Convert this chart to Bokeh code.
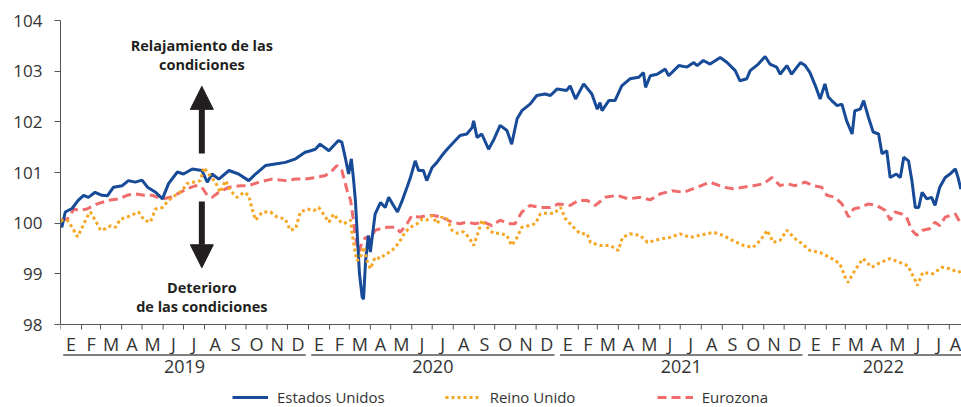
import pandas as pd
from bokeh.plotting import figure
from bokeh.models import Range1d, FixedTicker, Legend, LegendItem, Arrow, NormalHead, Label
from bokeh.embed import file_html
from bokeh.resources import INLINE
from bokeh.core.properties import value

# ---------------- data ----------------
series_names = ["Estados Unidos", "Reino Unido", "Eurozona"]

us_dates = [
    "2019-01-01", "2019-01-03", "2019-01-08", "2019-01-18", "2019-01-27", "2019-02-04", "2019-02-11", "2019-02-21",
    "2019-03-03", "2019-03-11", "2019-03-20", "2019-04-02", "2019-04-11", "2019-04-21", "2019-05-01", "2019-05-09",
    "2019-05-21", "2019-05-31", "2019-06-09", "2019-06-22", "2019-07-01", "2019-07-14", "2019-07-28", "2019-08-05",
    "2019-08-12", "2019-08-22", "2019-09-06", "2019-09-20", "2019-10-05", "2019-10-15", "2019-10-30", "2019-11-13",
    "2019-11-28", "2019-12-13", "2019-12-27", "2020-01-04", "2020-01-11", "2020-01-18", "2020-01-31", "2020-02-14",
    "2020-02-19", "2020-02-24", "2020-02-29", "2020-03-04", "2020-03-07", "2020-03-10", "2020-03-13", "2020-03-16",
    "2020-03-20", "2020-03-22", "2020-03-25", "2020-03-29", "2020-04-01", "2020-04-08", "2020-04-16", "2020-04-23",
    "2020-04-28", "2020-05-05", "2020-05-11", "2020-05-18", "2020-05-25", "2020-05-30", "2020-06-06", "2020-06-11",
    "2020-06-18", "2020-06-23", "2020-07-01", "2020-07-08", "2020-07-15", "2020-07-23", "2020-08-04", "2020-08-11",
    "2020-08-21", "2020-08-29", "2020-08-31", "2020-09-05", "2020-09-12", "2020-09-22", "2020-09-29", "2020-10-09",
    "2020-10-19", "2020-10-26", "2020-11-03", "2020-11-10", "2020-11-22", "2020-12-02", "2020-12-14", "2020-12-22",
    "2021-01-01", "2021-01-15", "2021-01-20", "2021-01-28", "2021-02-09", "2021-02-21", "2021-03-01", "2021-03-05",
    "2021-03-08", "2021-03-18", "2021-03-27", "2021-04-06", "2021-04-18", "2021-05-01", "2021-05-08", "2021-05-11",
    "2021-05-18", "2021-05-28", "2021-06-09", "2021-06-14", "2021-06-29", "2021-07-11", "2021-07-21", "2021-07-26",
    "2021-08-04", "2021-08-14", "2021-08-29", "2021-09-08", "2021-09-20", "2021-09-27", "2021-10-07", "2021-10-12",
    "2021-10-24", "2021-11-03", "2021-11-10", "2021-11-20", "2021-11-25", "2021-12-05", "2021-12-12", "2021-12-25",
    "2022-01-01", "2022-01-08", "2022-01-16", "2022-01-23", "2022-01-30", "2022-02-04", "2022-02-09", "2022-02-17",
    "2022-02-24", "2022-03-03", "2022-03-11", "2022-03-15", "2022-03-23", "2022-03-28", "2022-04-04", "2022-04-11",
    "2022-04-19", "2022-04-24", "2022-05-01", "2022-05-06", "2022-05-15", "2022-05-21", "2022-05-26", "2022-06-02",
    "2022-06-07", "2022-06-12", "2022-06-17", "2022-06-22", "2022-06-29", "2022-07-06", "2022-07-11", "2022-07-18",
    "2022-07-26", "2022-08-02", "2022-08-10", "2022-08-14", "2022-08-18",
]
us_values = [
    99.97, 99.92, 100.22, 100.29, 100.45, 100.55, 100.51, 100.61,
    100.55, 100.54, 100.71, 100.74, 100.84, 100.81, 100.85, 100.71,
    100.61, 100.48, 100.78, 101.01, 100.97, 101.07, 101.04, 100.81,
    100.97, 100.87, 101.04, 100.97, 100.84, 100.97, 101.14, 101.17,
    101.20, 101.27, 101.40, 101.43, 101.46, 101.56, 101.43, 101.63,
    101.60, 101.30, 100.97, 101.27, 100.90, 100.45, 99.72, 99.00,
    98.54, 98.50, 99.26, 99.76, 99.43, 100.18, 100.41, 100.31,
    100.51, 100.35, 100.22, 100.45, 100.71, 100.90, 101.23, 101.04,
    101.04, 100.84, 101.10, 101.20, 101.33, 101.46, 101.63, 101.73,
    101.76, 101.89, 102.02, 101.69, 101.76, 101.46, 101.63, 101.93,
    101.83, 101.56, 102.06, 102.22, 102.35, 102.52, 102.55, 102.52,
    102.65, 102.62, 102.71, 102.45, 102.75, 102.55, 102.25, 102.38,
    102.22, 102.42, 102.42, 102.71, 102.85, 102.88, 102.97, 102.68,
    102.91, 102.94, 103.04, 102.91, 103.11, 103.08, 103.17, 103.11,
    103.21, 103.14, 103.27, 103.17, 103.01, 102.81, 102.85, 103.01,
    103.14, 103.29, 103.14, 103.08, 102.94, 103.11, 102.94, 103.17,
    103.11, 102.97, 102.71, 102.45, 102.75, 102.49, 102.42, 102.32,
    102.35, 102.02, 101.76, 102.22, 102.25, 102.42, 102.09, 101.80,
    101.76, 101.37, 101.43, 100.90, 100.97, 100.90, 101.30, 101.23,
    100.84, 100.31, 100.31, 100.61, 100.48, 100.51, 100.35, 100.71,
    100.90, 100.97, 101.07, 100.90, 100.67,
]

uk_dates = [
    "2019-01-01", "2019-01-11", "2019-01-18", "2019-01-26", "2019-02-02", "2019-02-09", "2019-02-14", "2019-02-21",
    "2019-03-01", "2019-03-08", "2019-03-16", "2019-03-23", "2019-03-30", "2019-04-09", "2019-04-19", "2019-04-26",
    "2019-05-04", "2019-05-13", "2019-05-21", "2019-05-31", "2019-06-09", "2019-06-19", "2019-06-29", "2019-07-06",
    "2019-07-16", "2019-07-26", "2019-07-31", "2019-08-07", "2019-08-17", "2019-08-24", "2019-09-01", "2019-09-08",
    "2019-09-18", "2019-09-28", "2019-10-05", "2019-10-10", "2019-10-15", "2019-10-25", "2019-11-06", "2019-11-16",
    "2019-11-28", "2019-12-05", "2019-12-13", "2019-12-20", "2019-12-30", "2020-01-09", "2020-01-16", "2020-01-23",
    "2020-01-31", "2020-02-07", "2020-02-14", "2020-02-22", "2020-03-03", "2020-03-05", "2020-03-10", "2020-03-12",
    "2020-03-17", "2020-03-22", "2020-03-27", "2020-04-01", "2020-04-08", "2020-04-16", "2020-04-23", "2020-04-30",
    "2020-05-08", "2020-05-15", "2020-05-22", "2020-05-30", "2020-06-09", "2020-06-16", "2020-06-23", "2020-07-01",
    "2020-07-08", "2020-07-15", "2020-07-23", "2020-07-30", "2020-08-07", "2020-08-16", "2020-08-24", "2020-08-31",
    "2020-09-07", "2020-09-12", "2020-09-20", "2020-09-29", "2020-10-09", "2020-10-19", "2020-10-26", "2020-11-03",
    "2020-11-10", "2020-11-20", "2020-11-30", "2020-12-07", "2020-12-17", "2020-12-27", "2021-01-06", "2021-01-13",
    "2021-01-25", "2021-02-04", "2021-02-14", "2021-02-19", "2021-03-05", "2021-03-20", "2021-04-01", "2021-04-07",
    "2021-04-18", "2021-05-03", "2021-05-14", "2021-06-02", "2021-06-16", "2021-07-01", "2021-07-16", "2021-07-30",
    "2021-08-19", "2021-09-02", "2021-09-16", "2021-10-02", "2021-10-16", "2021-10-27", "2021-11-06", "2021-11-15",
    "2021-11-25", "2021-12-05", "2021-12-20", "2021-12-25", "2022-01-08", "2022-01-23", "2022-02-07", "2022-02-21",
    "2022-03-01", "2022-03-05", "2022-03-15", "2022-03-27", "2022-04-09", "2022-04-21", "2022-05-06", "2022-05-21",
    "2022-06-01", "2022-06-12", "2022-06-15", "2022-06-23", "2022-07-08", "2022-07-21", "2022-08-02", "2022-08-14",
    "2022-08-18",
]
uk_values = [
    100.06, 100.06, 99.92, 99.73, 99.92, 100.12, 100.22, 100.06,
    99.86, 99.89, 99.95, 99.92, 100.08, 100.12, 100.18, 100.22,
    100.06, 100.02, 100.28, 100.31, 100.45, 100.55, 100.64, 100.78,
    100.81, 100.84, 101.10, 100.97, 100.81, 100.61, 100.84, 100.64,
    100.51, 100.61, 100.55, 100.28, 100.06, 100.22, 100.22, 100.12,
    100.08, 99.86, 99.89, 100.22, 100.28, 100.25, 100.31, 100.18,
    100.02, 100.18, 100.06, 99.99, 100.06, 99.80, 99.41, 99.26,
    99.30, 99.53, 99.26, 99.10, 99.33, 99.30, 99.39, 99.43,
    99.53, 99.66, 99.82, 99.92, 99.99, 100.08, 100.06, 100.15,
    99.99, 100.12, 100.08, 99.86, 99.80, 99.83, 99.72, 99.56,
    99.83, 100.06, 99.92, 99.80, 99.80, 99.76, 99.56, 99.72,
    99.92, 99.95, 99.99, 100.18, 100.20, 100.19, 100.31, 100.09,
    99.92, 99.79, 99.79, 99.62, 99.56, 99.56, 99.46, 99.72,
    99.79, 99.76, 99.62, 99.69, 99.72, 99.79, 99.72, 99.76,
    99.82, 99.76, 99.66, 99.56, 99.52, 99.66, 99.86, 99.62,
    99.66, 99.86, 99.66, 99.62, 99.46, 99.42, 99.32, 99.20,
    98.93, 98.83, 99.07, 99.30, 99.13, 99.22, 99.30, 99.22,
    99.16, 98.87, 98.77, 99.03, 99.00, 99.13, 99.10, 99.03,
    99.05,
]

ez_dates = [
    "2019-01-01", "2019-01-11", "2019-01-21", "2019-01-28", "2019-02-09", "2019-02-24", "2019-03-13", "2019-03-28",
    "2019-04-09", "2019-04-21", "2019-05-04", "2019-05-16", "2019-05-31", "2019-06-12", "2019-06-27", "2019-07-06",
    "2019-07-19", "2019-07-28", "2019-08-05", "2019-08-12", "2019-08-22", "2019-09-06", "2019-09-23", "2019-10-05",
    "2019-10-20", "2019-11-08", "2019-11-28", "2019-12-13", "2019-12-25", "2020-01-11", "2020-01-26", "2020-02-05",
    "2020-02-12", "2020-02-19", "2020-02-27", "2020-03-03", "2020-03-07", "2020-03-10", "2020-03-15", "2020-03-20",
    "2020-03-25", "2020-04-01", "2020-04-08", "2020-04-16", "2020-04-26", "2020-05-08", "2020-05-15", "2020-05-25",
    "2020-06-01", "2020-06-11", "2020-06-23", "2020-07-03", "2020-07-15", "2020-07-30", "2020-08-11", "2020-08-21",
    "2020-09-02", "2020-09-15", "2020-09-27", "2020-10-09", "2020-10-21", "2020-10-31", "2020-11-10", "2020-11-22",
    "2020-12-07", "2020-12-22", "2021-01-03", "2021-01-20", "2021-02-01", "2021-02-14", "2021-02-26", "2021-03-13",
    "2021-03-30", "2021-04-16", "2021-05-03", "2021-05-18", "2021-06-02", "2021-06-19", "2021-07-06", "2021-07-26",
    "2021-08-14", "2021-09-03", "2021-09-17", "2021-10-02", "2021-10-17", "2021-11-01", "2021-11-13", "2021-11-25",
    "2021-12-05", "2021-12-17", "2022-01-01", "2022-01-13", "2022-01-25", "2022-02-02", "2022-02-14", "2022-02-24",
    "2022-03-06", "2022-03-13", "2022-03-23", "2022-04-04", "2022-04-16", "2022-04-29", "2022-05-06", "2022-05-13",
    "2022-05-23", "2022-05-30", "2022-06-07", "2022-06-14", "2022-06-23", "2022-07-03", "2022-07-11", "2022-07-18",
    "2022-07-26", "2022-08-02", "2022-08-10", "2022-08-18",
]
ez_values = [
    100.06, 100.08, 100.28, 100.25, 100.28, 100.38, 100.45, 100.48,
    100.55, 100.58, 100.55, 100.55, 100.48, 100.51, 100.61, 100.68,
    100.74, 100.71, 100.55, 100.51, 100.61, 100.71, 100.74, 100.74,
    100.81, 100.87, 100.84, 100.87, 100.87, 100.90, 100.94, 101.04,
    101.14, 101.04, 100.64, 100.45, 100.06, 99.72, 99.43, 99.63,
    99.72, 99.69, 99.86, 99.89, 99.92, 99.92, 99.82, 99.99,
    100.15, 100.12, 100.15, 100.15, 100.12, 100.02, 99.99, 100.02,
    99.99, 100.02, 99.95, 100.06, 99.99, 99.99, 100.22, 100.35,
    100.31, 100.31, 100.38, 100.35, 100.45, 100.45, 100.35, 100.51,
    100.55, 100.48, 100.51, 100.46, 100.58, 100.64, 100.61, 100.71,
    100.81, 100.71, 100.68, 100.71, 100.74, 100.78, 100.90, 100.74,
    100.78, 100.74, 100.81, 100.74, 100.71, 100.55, 100.51, 100.38,
    100.12, 100.28, 100.31, 100.38, 100.35, 100.25, 100.06, 100.22,
    100.18, 100.12, 99.86, 99.76, 99.86, 99.89, 100.02, 99.95,
    100.12, 100.15, 100.18, 99.99,
]

month_letters = ["E", "F", "M", "A", "M", "J", "J", "A", "S", "O", "N", "D"]
years = [2019, 2020, 2021, 2022]
y_ticks = [98, 99, 100, 101, 102, 103, 104]
note_up = ["Relajamiento de las", "condiciones"]
note_down = ["Deterioro", "de las condiciones"]

# ---------------- styles ----------------
C_US = "#174a97"
C_UK = "#f6a623"
C_EZ = "#f06b6b"
C_TXT = "#333333"
C_AX = "#555555"
C_NOTE = "#231f20"
FONT = "Open Sans"

X_START = pd.Timestamp("2019-01-01")
X_END = pd.Timestamp("2022-08-19")
Y_MIN, Y_MAX = 98, 104
PX_PER_UNIT = 50.67
Y_FRAME_BOTTOM = Y_MAX - 387 / PX_PER_UNIT


def ms(ts):
    return pd.Timestamp(ts).value / 1e6


def below(px):
    """value located px pixels below the 98 axis line"""
    return Y_MIN - px / PX_PER_UNIT


p = figure(width=961, height=407,
           x_range=Range1d(ms(X_START), ms(X_END)),
           y_range=Range1d(Y_FRAME_BOTTOM, Y_MAX),
           x_axis_location=None,
           output_backend="svg", toolbar_location=None,
           min_border_left=60, min_border_right=0,
           min_border_top=20, min_border_bottom=0)
p.outline_line_color = None
p.grid.visible = False
p.background_fill_color = "white"
p.border_fill_color = "white"

# y axis
ax = p.yaxis[0]
ax.ticker = FixedTicker(ticks=y_ticks)
ax.bounds = (Y_MIN, Y_MAX)
ax.major_tick_out = 6
ax.major_tick_in = 0
ax.minor_tick_out = 0
ax.minor_tick_in = 0
ax.axis_line_color = C_AX
ax.major_tick_line_color = C_AX
ax.major_label_text_font = FONT
ax.major_label_text_font_size = "17px"
ax.major_label_text_color = C_TXT
ax.major_label_standoff = 12

# x axis drawn by hand (month ticks, month letters, year underlines, year labels)
month_starts = list(pd.date_range(X_START, X_END, freq="MS"))
p.segment(x0=[ms(X_START)], y0=[Y_MIN], x1=[ms(X_END)], y1=[Y_MIN], line_color=C_AX, line_width=1)
p.segment(x0=[ms(m) for m in month_starts], y0=[Y_MIN] * len(month_starts),
          x1=[ms(m) for m in month_starts], y1=[below(5)] * len(month_starts),
          line_color=C_AX, line_width=1)
m_mid, m_txt = [], []
for m in month_starts:
    end = min(m + pd.offsets.MonthBegin(1), X_END)
    m_mid.append((ms(m) + ms(end)) / 2)
    m_txt.append(month_letters[m.month - 1])
p.text(x=m_mid, y=[below(19)] * len(m_mid), text=m_txt, text_align="center", text_baseline="alphabetic",
       text_font=value(FONT), text_font_size="18px", text_color=C_TXT)

y_mid, y_txt, u0, u1 = [], [], [], []
for yr in years:
    s = pd.Timestamp(f"{yr}-01-01")
    e = min(pd.Timestamp(f"{yr + 1}-01-01"), X_END)
    y_mid.append((ms(s) + ms(e)) / 2)
    y_txt.append(str(yr))
    u0.append(ms(s + pd.Timedelta(days=4)))
    u1.append(ms(e - pd.Timedelta(days=4)) if e < X_END else ms(X_END))
p.segment(x0=u0, y0=[below(30.5)] * len(u0), x1=u1, y1=[below(30.5)] * len(u0),
          line_color="#555555", line_width=1.3)
p.text(x=y_mid, y=[below(42)] * len(y_mid), text=y_txt, text_align="center", text_baseline="alphabetic",
       text_font=value(FONT), text_font_size="18px", text_color=C_TXT)

# series
r_ez = p.line([ms(d) for d in ez_dates], ez_values, line_color=C_EZ, line_width=3, line_dash="9 5")
r_us = p.line([ms(d) for d in us_dates], us_values, line_color=C_US, line_width=3)
r_uk = p.line([ms(d) for d in uk_dates], uk_values, line_color=C_UK, line_width=3, line_dash="3 3")

legend = Legend(items=[LegendItem(label=series_names[0], renderers=[r_us]),
                       LegendItem(label=series_names[1], renderers=[r_uk]),
                       LegendItem(label=series_names[2], renderers=[r_ez])],
                orientation="horizontal", location=(172, 0),
                glyph_width=36, glyph_height=20, label_height=20, label_standoff=9,
                label_width=107, spacing=60, padding=0, margin=0,
                border_line_color=None, background_fill_alpha=0,
                label_text_font=FONT, label_text_font_size="15px", label_text_color=C_TXT)
p.add_layout(legend)

# annotations
x_note = ms("2019-07-28")
p.add_layout(Arrow(end=NormalHead(size=23, fill_color=C_NOTE, line_color=C_NOTE),
                   x_start=x_note, y_start=101.375, x_end=x_note, y_end=102.70,
                   line_width=6, line_color=C_NOTE))
p.add_layout(Arrow(end=NormalHead(size=23, fill_color=C_NOTE, line_color=C_NOTE),
                   x_start=x_note, y_start=100.43, x_end=x_note, y_end=99.12,
                   line_width=6, line_color=C_NOTE))
for txt, yv in zip(note_up + note_down, [103.51, 103.13, 98.73, 98.36]):
    p.add_layout(Label(x=x_note, y=yv, text=txt, text_align="center", text_baseline="alphabetic",
                       text_font=FONT, text_font_style="bold", text_font_size="14.5px", text_color=C_NOTE))

open("out.html", "w").write(file_html(p, INLINE))
